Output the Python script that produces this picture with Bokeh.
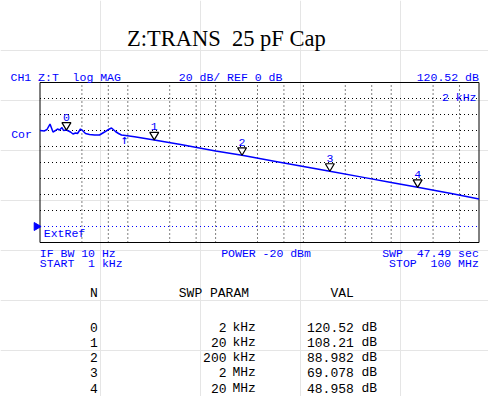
from bokeh.plotting import figure
from bokeh.models import Range1d, LogScale
from bokeh.embed import file_html
from bokeh.resources import INLINE
from bokeh.core.properties import value
import math

# ---------------- data ----------------
title_text = "Z:TRANS  25 pF Cap"
header_left = "CH1 Z:T  log MAG"
header_mid = "20 dB/ REF 0 dB"
header_right = "120.52 dB"
marker_readout = "2 kHz"
left_label = "Cor"
ref_label = "ExtRef"
foot_left = ["IF BW 10 Hz", "START  1 kHz"]
foot_mid = "POWER -20 dBm"
foot_right = ["SWP  47.49 sec", "STOP  100 MHz"]

start_freq = 1e3
stop_freq = 1e8
ref_db = 0
db_per_div = 20
n_div = 10
ref_div_from_bottom = 1
grid_mults = [3, 6, 10]

trace_freq = [1000, 1125, 1201, 1300, 1406, 1501, 1582, 1668, 1781, 1852, 2000,
              2112, 2226, 2376, 2537, 2674, 2893, 3050, 3298, 3663, 4176, 4761,
              5428, 6028, 6522, 7242, 7838, 8478, 9415, 11920, 20000, 40000,
              100000, 200000, 500000, 1e6, 2e6, 5e6, 1e7, 2e7, 5e7, 1e8]
trace_db = [120.0, 119.4, 121.25, 128.1, 118.1, 120.0, 121.9, 120.6, 123.75, 120.0, 120.52,
            119.4, 118.1, 115.6, 116.9, 116.25, 121.9, 120.0, 116.25, 115.0, 114.4, 114.4,
            118.1, 121.25, 123.1, 118.75, 116.25, 114.4, 113.75, 112.1, 108.21, 102.6,
            94.3, 88.982, 81.0, 75.0, 69.078, 61.1, 55.0, 48.958, 40.9, 34.5]

arrow_freq = 9.2e3

marker_n = [0, 1, 2, 3, 4]
marker_freq = [2e3, 2e4, 2e5, 2e6, 2e7]
marker_db = [120.52, 108.21, 88.982, 69.078, 48.958]
marker_param = ["2", "20", "200", "2", "20"]
marker_unit = ["kHz", "kHz", "kHz", "MHz", "MHz"]
marker_val = ["120.52", "108.21", "88.982", "69.078", "48.958"]
table_headers = ["N", "SWP PARAM", "VAL"]

# ---------------- layout / style ----------------
BLUE = "#0000ff"
W, H = 488, 396
box_left, box_right, box_top, box_bottom = 39.5, 478.5, 82.0, 242.0
MONO = "Liberation Mono"
HSIZE = "11.5px"
NB = "\u00a0"

bottom_db = ref_db - db_per_div * ref_div_from_bottom
top_db = bottom_db + db_per_div * n_div
n_dec = math.log10(stop_freq / start_freq)
px_per_dec = (box_right - box_left) / n_dec
px_per_db = (box_bottom - box_top) / (top_db - bottom_db)
f0 = start_freq * 10 ** (-box_left / px_per_dec)
f1 = stop_freq * 10 ** ((W - box_right) / px_per_dec)
db0 = bottom_db - (H - box_bottom) / px_per_db
db1 = top_db + box_top / px_per_db

p = figure(width=W, height=H, x_range=Range1d(0, W), y_range=Range1d(H, 0),
           x_axis_location=None, y_axis_location=None, min_border=0,
           toolbar_location=None, output_backend="svg", outline_line_color=None)
p.extra_x_ranges = {"f": Range1d(f0, f1)}
p.extra_x_scales = {"f": LogScale()}
p.extra_y_ranges = {"db": Range1d(db0, db1)}
p.background_fill_color = "white"
p.border_fill_color = "white"

D = dict(x_range_name="f", y_range_name="db")


def txt(x, y, s, size=HSIZE, color=BLUE, font=MONO, align="left",
        baseline="alphabetic", **kw):
    p.text(x=[x], y=[y], text=[s.replace(" ", NB)], text_font=value(font),
           text_font_size=value(size), text_color=color, text_align=align,
           text_baseline=baseline, **kw)


# grid
vx = []
d = int(round(math.log10(start_freq)))
while 10 ** d < stop_freq:
    for m in grid_mults:
        f = m * 10 ** d
        if start_freq < f < stop_freq:
            vx.append(f)
    d += 1
p.segment(x0=vx, x1=vx, y0=[bottom_db] * len(vx), y1=[top_db] * len(vx),
          line_color="black", line_width=1, line_dash="1 3", **D)
hy = [bottom_db + db_per_div * k for k in range(1, n_div) if bottom_db + db_per_div * k != ref_db]
p.segment(x0=[start_freq] * len(hy), x1=[stop_freq] * len(hy), y0=hy, y1=hy,
          line_color="black", line_width=1, line_dash="1 3", **D)
p.segment(x0=[start_freq], x1=[stop_freq], y0=[ref_db], y1=[ref_db],
          line_color=BLUE, line_width=1, line_dash="1 3", **D)

# box
p.quad(left=[start_freq], right=[stop_freq], bottom=[bottom_db], top=[top_db],
       fill_color=None, line_color="black", line_width=1, **D)

# trace
p.line(trace_freq, trace_db, line_color=BLUE, line_width=1.5, **D)

# markers
k = 10 ** (4.5 / px_per_dec)
h = 7.5 / px_per_db
p.patches(xs=[[f / k, f * k, f] for f in marker_freq],
          ys=[[v + h, v + h, v] for v in marker_db],
          fill_color="white", line_color="black", line_width=1.2, **D)
p.text(x=marker_freq, y=[v + 13.0 / px_per_db for v in marker_db],
       text=[str(n) for n in marker_n], text_font=value(MONO),
       text_font_size=value(HSIZE), text_color=BLUE, text_align="center",
       text_baseline="alphabetic", **D)

# arrow pointer
p.text(x=[arrow_freq], y=[139.0], text=["\u2191"], text_font=value("DejaVu Sans Mono"),
       text_font_size=value("13px"), text_color=BLUE, text_align="center",
       text_baseline="middle", x_range_name="f")

# reference pointer
p.scatter(x=[36], y=[ref_db], marker="triangle", angle=-math.pi / 2, size=8,
          fill_color=BLUE, line_color=BLUE, y_range_name="db")

# title
txt(225.8, 38, title_text, size="22.5px", color="black", font="Liberation Serif", align="center")

# header / annotations
txt(10, 77, header_left)
txt(178.3, 77, header_mid)
txt(478.3, 77, header_right, align="right")
txt(476, 97, marker_readout, align="right")
txt(10.7, 134, left_label)
txt(43.3, 232.7, ref_label)
txt(39.3, 252.7, foot_left[0])
txt(39.3, 262.7, foot_left[1])
txt(220.7, 252.7, foot_mid)
txt(478.3, 252.7, foot_right[0], align="right")
txt(478.3, 262.7, foot_right[1], align="right")

# table
TS = "13px"
txt(93.3, 292.5, table_headers[0], size=TS, color="black", align="center")
txt(178.3, 292.5, table_headers[1], size=TS, color="black")
txt(353.3, 292.5, table_headers[2], size=TS, color="black", align="right")
for i, n in enumerate(marker_n):
    yb = 326.5 + 15.3 * i
    txt(93.3, yb, str(n), size=TS, color="black", align="center")
    txt(226, yb, marker_param[i], size=TS, color="black", align="right")
    txt(232, yb, marker_unit[i], size=TS, color="black")
    txt(353.3, yb, marker_val[i], size=TS, color="black", align="right")
    txt(361, yb, "dB", size=TS, color="black")

open("out.html", "w").write(file_html(p, INLINE))
